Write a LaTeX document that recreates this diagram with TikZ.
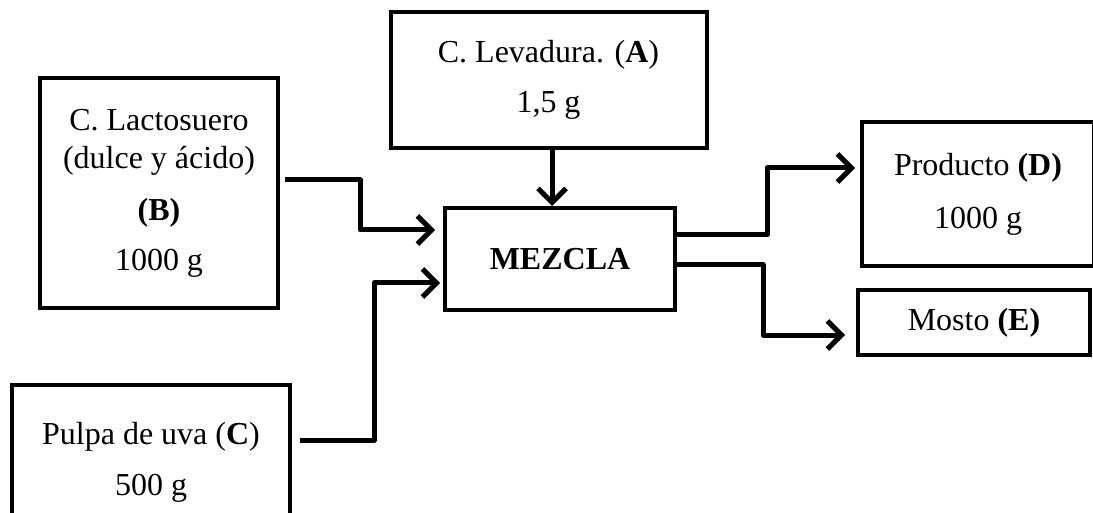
\documentclass[tikz,border=0pt]{standalone}
\usepackage{fontspec}
\setmainfont{Liberation Serif}
\usetikzlibrary{arrows.meta,calc}
\begin{document}
\begin{tikzpicture}[x=1pt,y=-1pt,
  box/.style={draw,line width=4pt,inner sep=0pt,align=center,font=\fontsize{32}{38}\selectfont},
  arr/.style={line width=5pt,-{Straight Barb[length=14pt,width=28pt]},line join=round}]
\useasboundingbox (0,0) rectangle (1093,513);
\clip (0,0) rectangle (1093,513);
% boxes
\node[box,minimum width=316pt,minimum height=136pt,font=\fontsize{32}{50}\selectfont] (A) at (548.5,80)
  {C. Levadura. (\textbf{A})\\1,5 g};
\node[box,minimum width=238pt,minimum height=230pt] (B) at (159,193)
  {C. Lactosuero\\(dulce y ácido)\\[14pt]\textbf{(B)}\\[12pt]1000 g};
\node[box,minimum width=278pt,minimum height=154pt,font=\fontsize{32}{51}\selectfont] (C) at (151,462)
  {Pulpa de uva (\textbf{C})\\500 g};
\node[box,minimum width=230pt,minimum height=102pt,font=\fontsize{32}{38}\selectfont\bfseries] (M) at (560,259) {MEZCLA};
\node[box,minimum width=232pt,minimum height=144pt,font=\fontsize{32}{53}\selectfont] (D) at (978,194)
  {Producto \textbf{(D)}\\1000 g};
\node[box,minimum width=232pt,minimum height=65pt] (E) at (974,322.5)
  {Mosto \textbf{(E)}};
% bend coordinates
\coordinate (b1) at (285,180);
\coordinate (b2) at (360,230);
\coordinate (c1) at (300,440);
\coordinate (c2) at (374,283);
\coordinate (d1) at (767,235);
\coordinate (d2) at (767,168);
\coordinate (e1) at (763,265);
\coordinate (e2) at (763,335);
% connectors
\draw[arr] (A.south -| 552,0) -- (552,0 |- M.north);
\draw[arr,shorten >=8pt] (b1) -| (b2) -- (M.west |- b2);
\draw[arr,shorten >=3pt] (c1) -| (c2) -- (M.west |- c2);
\draw[arr,shorten >=5pt] (M.east |- d1) -| (d2) -- (D.west |- d2);
\draw[arr,shorten >=11pt] (M.east |- e1) -| (e2) -- (E.west |- e2);
\end{tikzpicture}
\end{document}
